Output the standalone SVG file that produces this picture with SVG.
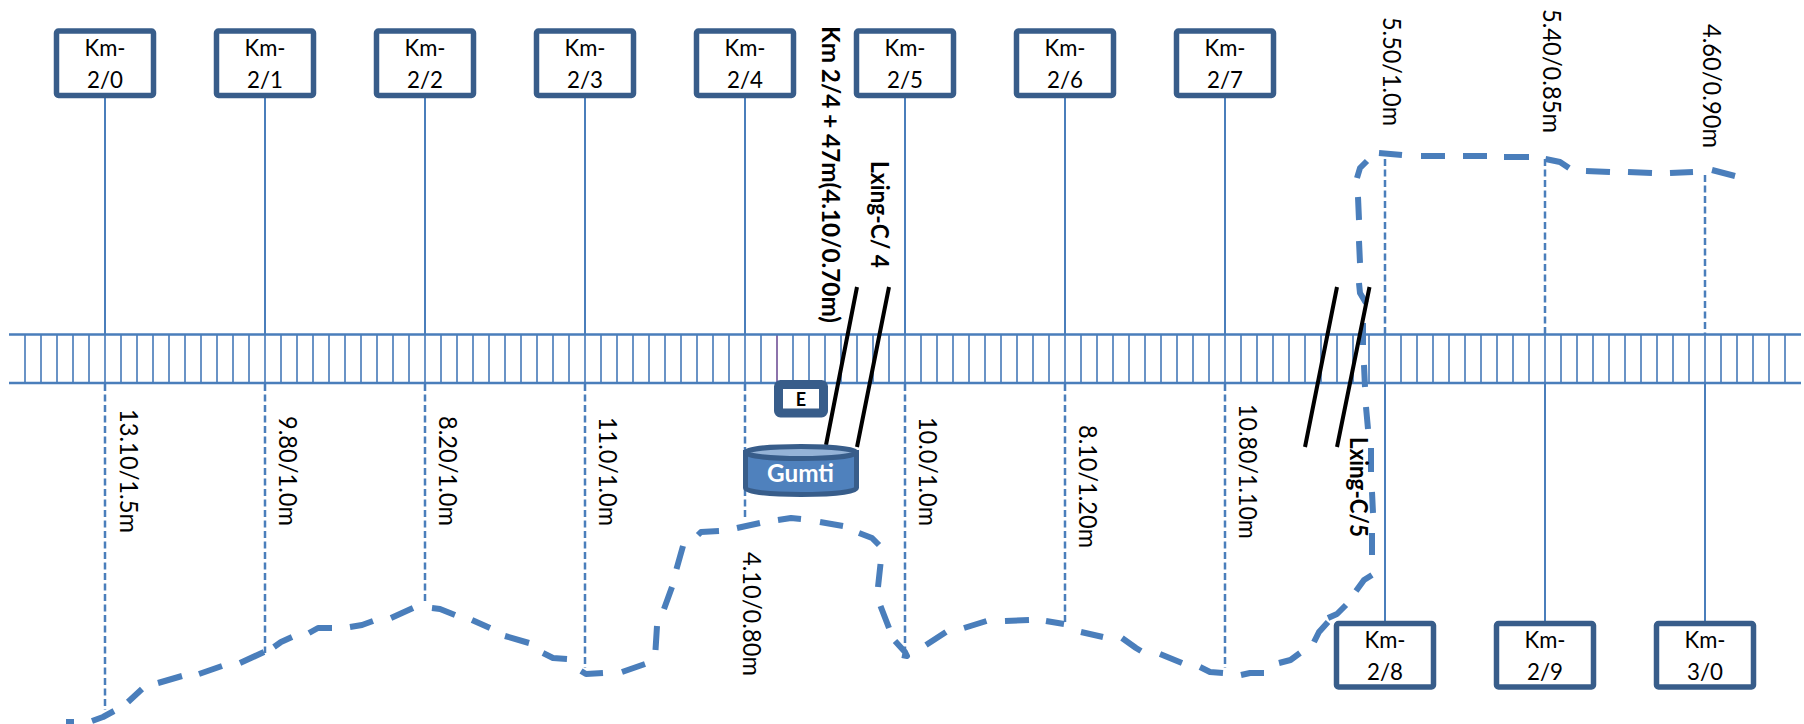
<svg xmlns="http://www.w3.org/2000/svg" width="1804" height="724" viewBox="0 0 1804 724">
<style>
text{font-family:Lato,"Liberation Sans",sans-serif;fill:#000}
.km{font-size:24px;text-anchor:middle}
.v{font-size:25px}
.b{font-size:25px;font-weight:700}
.box{fill:#fff;stroke:#385d8a;stroke-width:5.500}
.solid{stroke:#4a7ebb;stroke-width:2;fill:none}
.dash{stroke:#4a7ebb;stroke-width:2.500;fill:none;stroke-dasharray:7 3.500}
.rail{stroke:#4a7ebb;stroke-width:2.500;fill:none}
.tie{stroke:#5a88c0;stroke-width:1.800;fill:none}
.prof{stroke:#4a7ebb;stroke-width:6;fill:none;stroke-linejoin:round}
.blk{stroke:#000;stroke-width:4;fill:none}
</style>
<rect width="1804" height="724" fill="#fff"/>
<g id="connectors">
<path class="solid" d="M105 98V334M265 98V334M425 98V334M585 98V334M745 98V334M905 98V334M1065 98V334M1225 98V334M1385 383V621M1545 383V621M1705 383V621"/>
<path class="dash" d="M105 384V710M265 384V653M425 384V603M585 384V668M745 384V520M905 384V650M1065 384V622M1225 384V668M1385 159V334M1545 159V334M1705 175V334"/>
</g>
<g id="rail">
<path class="tie" d="M25 334V383M41 334V383M57 334V383M73 334V383M89 334V383M105 334V383M121 334V383M137 334V383M153 334V383M169 334V383M185 334V383M201 334V383M217 334V383M233 334V383M249 334V383M265 334V383M281 334V383M297 334V383M313 334V383M329 334V383M345 334V383M361 334V383M377 334V383M393 334V383M409 334V383M425 334V383M441 334V383M457 334V383M473 334V383M489 334V383M505 334V383M521 334V383M537 334V383M553 334V383M569 334V383M585 334V383M601 334V383M617 334V383M633 334V383M649 334V383M665 334V383M681 334V383M697 334V383M713 334V383M729 334V383M745 334V383M761 334V383M793 334V383M809 334V383M825 334V383M841 334V383M857 334V383M873 334V383M889 334V383M905 334V383M921 334V383M937 334V383M953 334V383M969 334V383M985 334V383M1001 334V383M1017 334V383M1033 334V383M1049 334V383M1065 334V383M1081 334V383M1097 334V383M1113 334V383M1129 334V383M1145 334V383M1161 334V383M1177 334V383M1193 334V383M1209 334V383M1225 334V383M1241 334V383M1257 334V383M1273 334V383M1289 334V383M1305 334V383M1321 334V383M1337 334V383M1353 334V383M1369 334V383M1385 334V383M1401 334V383M1417 334V383M1433 334V383M1449 334V383M1465 334V383M1481 334V383M1497 334V383M1513 334V383M1529 334V383M1545 334V383M1561 334V383M1577 334V383M1593 334V383M1609 334V383M1625 334V383M1641 334V383M1657 334V383M1673 334V383M1689 334V383M1705 334V383M1721 334V383M1737 334V383M1753 334V383M1769 334V383M1785 334V383"/>
<path d="M777 334V383" stroke="#8064a2" stroke-width="1.800"/>
<path class="rail" d="M9 334.500H1801M9 383H1801"/>
</g>
<g id="terrain-profile">
<path class="prof" d="M66 722L74 722M92 721L103 717L114 711M128 702L142 689M158 683L182 676M199 674L222 666M240 663L264 652M274 647L281 642L292 637M309 633L318 628L332 628M350 627L362 625L373 621M391 618L413 608M432 608L440 609L455 615M472 620L490 628M505 636L529 643M543 653L553 658L567 659M581 671L586 674L603 673M622 672L645 664M655.500 650L657 626M664 609L672 587M676.500 569L683 546M698 535L701 532L719 531M737 528L760 523M778 520L791 518L801 519M820 522L843 526M859 533L872 538L879 545M880.500 564L878 587M880.500 606L889 628M895 641L905 652L907 656L902 655M926 645L946 632M964 628L986.500 621M1005 621L1029 620M1046 621L1064 624M1081 632L1103 637M1122 638L1136 648L1141 651M1160 654L1182 663M1200 667L1210 672L1223 673M1241 675L1250 673L1264 673M1279 663L1290.500 660L1300 653M1314 642L1319 632L1328 622M1328 618L1337 614L1346 605M1356 591L1364 580L1372 575M1372 555L1372 533M1373 513L1372 492M1371 472L1371 448M1368 429L1366 407M1365 387L1364 365M1363 345L1363 323M1366 303L1360 293L1359 283M1360 263L1359 241M1359 220L1358 197M1357 178L1360 168L1367 161M1379 153L1402 155M1421 156L1445 156M1463 156L1487 156M1504 157L1529 157M1545.500 159L1560 162L1569 168M1586 171L1610 172M1628 172L1652 173M1670 173L1693 172M1712 170L1735 176"/>
</g>
<g id="crossing-lines">
<path class="blk" d="M857 287L826 445M889 287L857 447M1337 287L1305 447M1369.500 287L1337 447"/>
</g>
<g id="km-2-0"><rect class="box" x="56.500" y="31" width="97" height="64.500" rx="2"/><text class="km" x="105" y="56" textLength="41" lengthAdjust="spacingAndGlyphs">Km-</text><text class="km" x="105" y="88" textLength="36" lengthAdjust="spacingAndGlyphs">2/0</text></g>
<g id="km-2-1"><rect class="box" x="216.500" y="31" width="97" height="64.500" rx="2"/><text class="km" x="265" y="56" textLength="41" lengthAdjust="spacingAndGlyphs">Km-</text><text class="km" x="265" y="88" textLength="36" lengthAdjust="spacingAndGlyphs">2/1</text></g>
<g id="km-2-2"><rect class="box" x="376.500" y="31" width="97" height="64.500" rx="2"/><text class="km" x="425" y="56" textLength="41" lengthAdjust="spacingAndGlyphs">Km-</text><text class="km" x="425" y="88" textLength="36" lengthAdjust="spacingAndGlyphs">2/2</text></g>
<g id="km-2-3"><rect class="box" x="536.500" y="31" width="97" height="64.500" rx="2"/><text class="km" x="585" y="56" textLength="41" lengthAdjust="spacingAndGlyphs">Km-</text><text class="km" x="585" y="88" textLength="36" lengthAdjust="spacingAndGlyphs">2/3</text></g>
<g id="km-2-4"><rect class="box" x="696.500" y="31" width="97" height="64.500" rx="2"/><text class="km" x="745" y="56" textLength="41" lengthAdjust="spacingAndGlyphs">Km-</text><text class="km" x="745" y="88" textLength="36" lengthAdjust="spacingAndGlyphs">2/4</text></g>
<g id="km-2-5"><rect class="box" x="856.500" y="31" width="97" height="64.500" rx="2"/><text class="km" x="905" y="56" textLength="41" lengthAdjust="spacingAndGlyphs">Km-</text><text class="km" x="905" y="88" textLength="36" lengthAdjust="spacingAndGlyphs">2/5</text></g>
<g id="km-2-6"><rect class="box" x="1016.500" y="31" width="97" height="64.500" rx="2"/><text class="km" x="1065" y="56" textLength="41" lengthAdjust="spacingAndGlyphs">Km-</text><text class="km" x="1065" y="88" textLength="36" lengthAdjust="spacingAndGlyphs">2/6</text></g>
<g id="km-2-7"><rect class="box" x="1176.500" y="31" width="97" height="64.500" rx="2"/><text class="km" x="1225" y="56" textLength="41" lengthAdjust="spacingAndGlyphs">Km-</text><text class="km" x="1225" y="88" textLength="36" lengthAdjust="spacingAndGlyphs">2/7</text></g>
<g id="km-2-8"><rect class="box" x="1336.500" y="623.500" width="97" height="63.500" rx="2"/><text class="km" x="1385" y="648" textLength="41" lengthAdjust="spacingAndGlyphs">Km-</text><text class="km" x="1385" y="680" textLength="36" lengthAdjust="spacingAndGlyphs">2/8</text></g>
<g id="km-2-9"><rect class="box" x="1496.500" y="623.500" width="97" height="63.500" rx="2"/><text class="km" x="1545" y="648" textLength="41" lengthAdjust="spacingAndGlyphs">Km-</text><text class="km" x="1545" y="680" textLength="36" lengthAdjust="spacingAndGlyphs">2/9</text></g>
<g id="km-3-0"><rect class="box" x="1656.500" y="623.500" width="97" height="63.500" rx="2"/><text class="km" x="1705" y="648" textLength="41" lengthAdjust="spacingAndGlyphs">Km-</text><text class="km" x="1705" y="680" textLength="36" lengthAdjust="spacingAndGlyphs">3/0</text></g>
<g id="e-box"><rect x="778.500" y="384.500" width="45" height="28.500" fill="#fff" stroke="#385d8a" stroke-width="9" rx="2"/><text x="801" y="406" font-size="18" font-weight="700" text-anchor="middle">E</text></g>
<g id="gumti">
<path d="M745.500 452.500V488C745.500 492 770 494.500 801 494.500S856.500 492 856.500 488V452.500Z" fill="#4f81bd" stroke="#385d8a" stroke-width="5"/>
<ellipse cx="801" cy="452.500" rx="55.500" ry="6" fill="#95b3d7" stroke="#385d8a" stroke-width="5"/>
<text x="800.500" y="482" font-size="24" font-weight="700" text-anchor="middle" textLength="67" lengthAdjust="spacingAndGlyphs" style="fill:#fff">Gumti</text>
</g>
<g id="labels">
<text class="v" transform="translate(120 409) rotate(90)" textLength="124" lengthAdjust="spacingAndGlyphs">13.10/1.5m</text>
<text class="v" transform="translate(279 416) rotate(90)" textLength="110" lengthAdjust="spacingAndGlyphs">9.80/1.0m</text>
<text class="v" transform="translate(439 416) rotate(90)" textLength="110" lengthAdjust="spacingAndGlyphs">8.20/1.0m</text>
<text class="v" transform="translate(599 417) rotate(90)" textLength="109" lengthAdjust="spacingAndGlyphs">11.0/1.0m</text>
<text class="v" transform="translate(743 552) rotate(90)" textLength="124" lengthAdjust="spacingAndGlyphs">4.10/0.80m</text>
<text class="v" transform="translate(919 417) rotate(90)" textLength="109" lengthAdjust="spacingAndGlyphs">10.0/1.0m</text>
<text class="v" transform="translate(1079 425) rotate(90)" textLength="123" lengthAdjust="spacingAndGlyphs">8.10/1.20m</text>
<text class="v" transform="translate(1239 404) rotate(90)" textLength="135" lengthAdjust="spacingAndGlyphs">10.80/1.10m</text>
<text class="v" transform="translate(1383 17) rotate(90)" textLength="109" lengthAdjust="spacingAndGlyphs">5.50/1.0m</text>
<text class="v" transform="translate(1543 9) rotate(90)" textLength="124" lengthAdjust="spacingAndGlyphs">5.40/0.85m</text>
<text class="v" transform="translate(1703 24) rotate(90)" textLength="124" lengthAdjust="spacingAndGlyphs">4.60/0.90m</text>
<text class="b" transform="translate(822 26) rotate(90)" textLength="297" lengthAdjust="spacingAndGlyphs">Km 2/4 + 47m(4.10/0.70m)</text>
<text class="b" transform="translate(871 161) rotate(90)" textLength="107" lengthAdjust="spacingAndGlyphs">Lxing-C/ 4</text>
<text class="b" transform="translate(1350 437) rotate(90)" textLength="100" lengthAdjust="spacingAndGlyphs">Lxing-C/5</text>
</g>
</svg>
